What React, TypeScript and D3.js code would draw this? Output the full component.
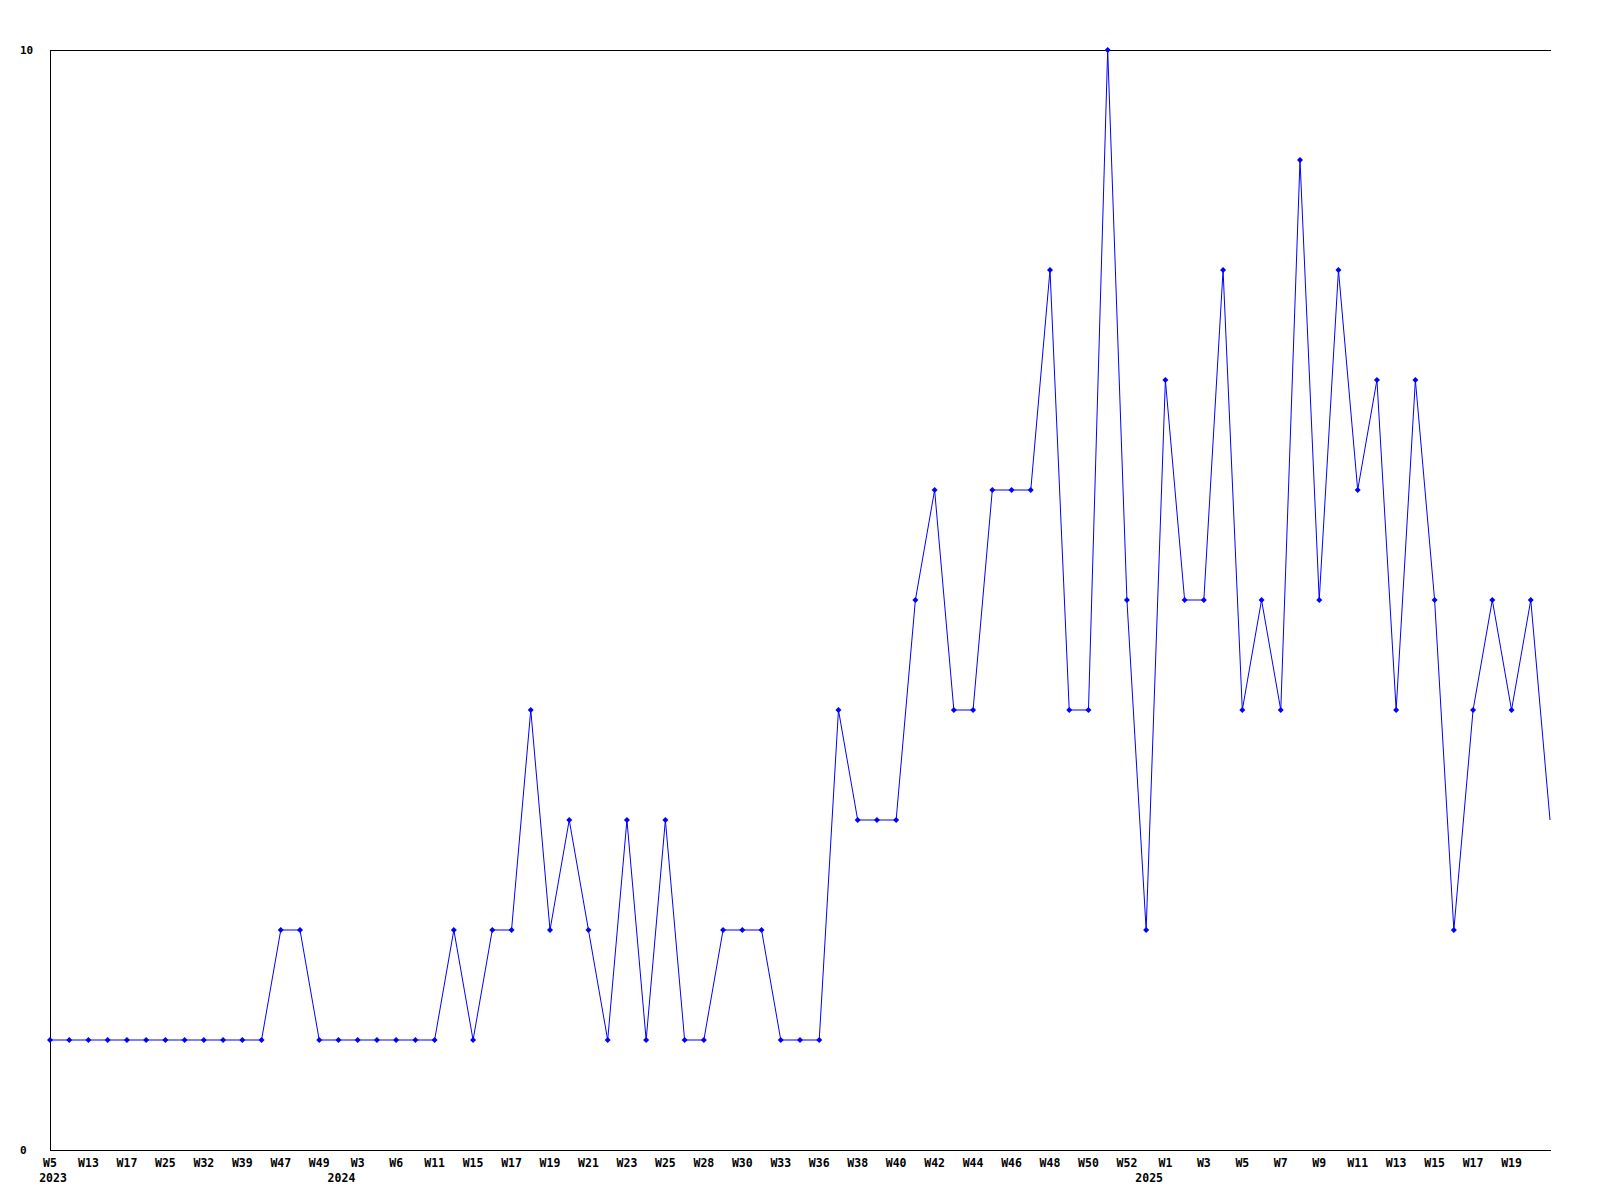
import React from "react";
import * as d3 from "d3";

const values: number[] = [
  1, 1, 1, 1, 1, 1, 1, 1, 1, 1, 1, 1,
  2, 2, 1, 1, 1, 1, 1, 1, 1, 2, 1, 2, 2, 4, 2, 3, 2, 1, 3, 1, 3, 1, 1, 2, 2, 2, 1, 1, 1,
  4, 3, 3, 3, 5, 6, 4, 4, 6, 6, 6, 8, 4, 4, 10, 5, 2, 7, 5, 5, 8, 4, 5, 4, 9, 5, 8, 6, 7, 4, 7, 5, 2, 4, 5, 4, 5, 3,
];

const weekLabels: string[] = [
  "W5", "W13", "W17", "W25", "W32", "W39", "W47", "W49", "W3", "W6", "W11", "W15", "W17",
  "W19", "W21", "W23", "W25", "W28", "W30", "W33", "W36", "W38", "W40", "W42", "W44", "W46",
  "W48", "W50", "W52", "W1", "W3", "W5", "W7", "W9", "W11", "W13", "W15", "W17", "W19",
];

const yearLabels: string[] = ["2023", "2024", "2025"];
const yearIndex: number[] = [0, 15, 57];

const yTicks: number[] = [0, 10];

const W = 1600;
const H = 1200;
const left = 50;
const right = 1551;
const top = 50;
const bottom = 1150;

export default function App() {
  const idx = values.map((_, i) => i);
  const x = d3.scaleLinear().domain([0, values.length - 1]).range([left, 1550]);
  const y = d3.scaleLinear().domain([0, 10]).range([bottom, top]);
  const line = d3
    .line<number>()
    .x((_, i) => x(i))
    .y((d) => y(d));
  const font = "'DejaVu Sans Mono', monospace";
  return (
    <div style={{ position: "absolute", left: 0, top: 0, width: W, height: H, background: "#fff" }}>
      <svg width={W} height={H} style={{ display: "block" }}>
        <rect x={0} y={0} width={W} height={H} fill="#fff" />
        <line x1={left + 0.5} y1={top} x2={left + 0.5} y2={bottom + 0.5} stroke="#000" strokeWidth={1} shapeRendering="crispEdges" />
        <line x1={left} y1={top + 0.5} x2={right} y2={top + 0.5} stroke="#000" strokeWidth={1} shapeRendering="crispEdges" />
        <line x1={left} y1={bottom + 0.5} x2={right} y2={bottom + 0.5} stroke="#000" strokeWidth={1} shapeRendering="crispEdges" />
        {yTicks.map((t) => (
          <text key={t} x={20} y={y(t)} dy="0.35em" fontFamily={font} fontWeight="bold" fontSize={11} fill="#000">
            {t}
          </text>
        ))}
        {weekLabels.map((lab, k) => (
          <text key={"w" + k} x={x(k * 2)} y={1167} textAnchor="middle" fontFamily={font} fontWeight="bold" fontSize={11.5} fill="#000">
            {lab}
          </text>
        ))}
        {yearLabels.map((lab, k) => (
          <text key={"y" + k} x={x(yearIndex[k]) + 3} y={1182} textAnchor="middle" fontFamily={font} fontWeight="bold" fontSize={11.5} fill="#000">
            {lab}
          </text>
        ))}
        <path d={line(values) || ""} fill="none" stroke="#0000ff" strokeWidth={1} />
        {idx.slice(0, values.length - 1).map((i) => {
          const cx = x(i);
          const cy = y(values[i]);
          return (
            <path
              key={"m" + i}
              d={`M${cx - 3},${cy}L${cx},${cy - 3}L${cx + 3},${cy}L${cx},${cy + 3}Z`}
              fill="#0000ff"
              stroke="none"
            />
          );
        })}
      </svg>
    </div>
  );
}
